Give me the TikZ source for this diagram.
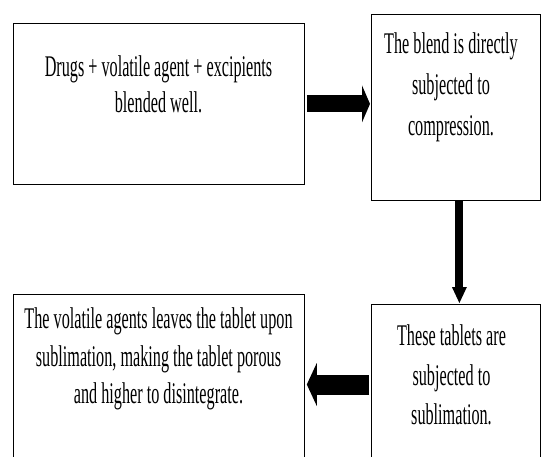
\documentclass[tikz,border=0pt]{standalone}
\usepackage{fontspec}
\setmainfont{Liberation Serif}[FakeStretch=0.54]
\usetikzlibrary{arrows.meta}
\begin{document}
\begin{tikzpicture}[x=1pt,y=-1pt,
  box/.style={draw=black, line width=0.8pt, inner sep=0pt, anchor=north west},
  txt/.style={anchor=north, align=center, inner sep=0pt},
  blk/.style={draw=black, line cap=butt}]
\useasboundingbox (0,0) rectangle (541,457);
\clip (0,0) rectangle (541,457);
% boxes
\node[box, minimum width=291pt, minimum height=161pt] (b1) at (13,23) {};
\node[box, minimum width=169pt, minimum height=186pt] (b2) at (371,14.5) {};
\node[box, minimum width=169pt, minimum height=176pt] (b3) at (371,304) {};
\node[box, minimum width=291pt, minimum height=186pt] (b4) at (13,294) {};
% texts
\node[txt, font=\fontsize{30}{36}\selectfont] (t1) at (158.5,55.5) {Drugs + volatile agent + excipients\\ blended well.};
\node[txt, font=\fontsize{30}{41}\selectfont] (t2) at (451,32.5) {The blend is directly\\ subjected to\\ compression.};
\node[txt, font=\fontsize{30}{39.5}\selectfont] (t3) at (451.5,324.5) {These tablets are\\ subjected to\\ sublimation.};
\node[txt, font=\fontsize{30}{37.5}\selectfont] (t4) at (158.5,307.5) {The volatile agents leaves the tablet upon\\ sublimation, making the tablet porous\\ and higher to disintegrate.};
% connectors
\draw[blk, line width=17pt, -{Triangle[length=8pt,width=37pt,line width=0pt]}, shorten <=2pt, shorten >=1pt]
  (b1.east) -- (b1.east -| b2.west);
\draw[blk, line width=8pt, -{Triangle[length=16pt,width=15pt,line width=0pt]}, shorten >=1pt]
  ([xshift=3.5pt]b2.south) -- ([xshift=3.5pt]b2.south |- b3.north);
\coordinate (la) at (369,384.5);
\draw[blk, line width=20pt, -{Triangle[length=10pt,width=43pt,line width=0pt]}, shorten <=2pt, shorten >=2pt]
  (b3.west |- la) -- (b4.east |- la);
\end{tikzpicture}
\end{document}
